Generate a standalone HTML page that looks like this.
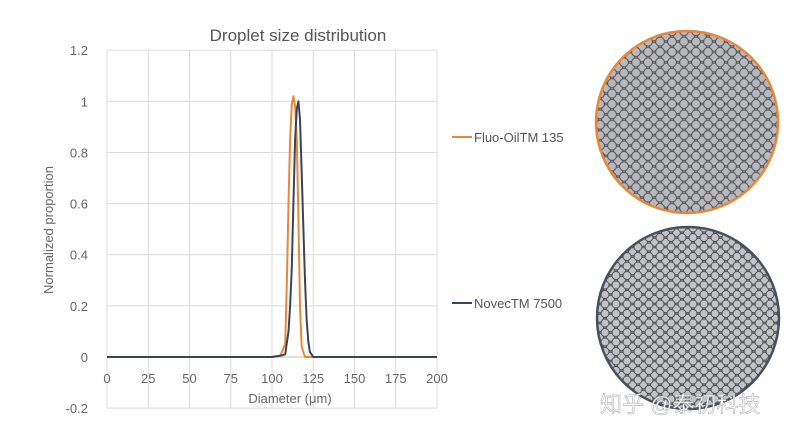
<!DOCTYPE html>
<html><head><meta charset="utf-8"><style>
body{margin:0;background:#fff;width:800px;height:435px;overflow:hidden;font-family:"Liberation Sans","Noto Sans CJK SC",sans-serif}
</style></head><body>
<svg id="chart" width="800" height="435" viewBox="0 0 800 435" xmlns="http://www.w3.org/2000/svg">
<defs>
<pattern id="hexO" width="12" height="10.4" patternUnits="userSpaceOnUse">
<rect width="12" height="10.4" fill="#9a9a9e"/>
<g fill="#b8b9bd" stroke="#55555b" stroke-width="1">
<circle cx="6" cy="5.2" r="4.4"/>
<circle cx="0" cy="0" r="4.4"/><circle cx="12" cy="0" r="4.4"/>
<circle cx="0" cy="10.4" r="4.4"/><circle cx="12" cy="10.4" r="4.4"/></g>
</pattern>
<pattern id="hexN" width="11" height="9.5" patternUnits="userSpaceOnUse">
<rect width="11" height="9.5" fill="#8a8b90"/>
<g fill="#c2c3c6" stroke="#505157" stroke-width="1">
<circle cx="5.5" cy="4.75" r="4"/>
<circle cx="0" cy="0" r="4"/><circle cx="11" cy="0" r="4"/>
<circle cx="0" cy="9.5" r="4"/><circle cx="11" cy="9.5" r="4"/></g>
</pattern>
</defs>
<text x="298" y="41" font-size="17" fill="#555" text-anchor="middle">Droplet size distribution</text>
<g id="grid"></g>
<g id="axes"></g>
<g id="series"></g>
<text transform="translate(53,230) rotate(-90)" font-size="13" fill="#666" text-anchor="middle">Normalized proportion</text>
<text x="290" y="403" font-size="13" fill="#666" text-anchor="middle">Diameter (μm)</text>
<g>
<line x1="452" y1="137" x2="472" y2="137" stroke="#e8873a" stroke-width="2"/>
<text x="474" y="142" font-size="13" fill="#555">Fluo-OilTM 135</text></g>
<g>
<line x1="452" y1="303" x2="472" y2="303" stroke="#3a4459" stroke-width="2"/>
<text x="474" y="308" font-size="13" fill="#555">NovecTM 7500</text></g>
<circle cx="687" cy="122" r="91" fill="url(#hexO)" stroke="#e8873a" stroke-width="2.5"/>
<circle cx="688" cy="318" r="91" fill="url(#hexN)" stroke="#4a4f5c" stroke-width="2.5"/>
<text x="600" y="412" font-size="22" fill="#fafafa" stroke="#999" stroke-width="0.4">知乎 @泰初科技</text>
</svg>
<script>
const xTicks=[0,25,50,75,100,125,150,175,200];
const yTicks=[-0.2,0,0.2,0.4,0.6,0.8,1,1.2];
const yTickLabels=["-0.2","0","0.2","0.4","0.6","0.8","1","1.2"];
const fluoX=[0,100,105,108,109,110,111,112,113,114,115,116,117,118,120,125,200];
const fluoY=[0,0,0.005,0.05,0.3,0.6,0.85,0.99,1.02,0.98,0.85,0.55,0.2,0.04,0,0,0];
const novecX=[0,100,105,108,110,111,112,113,114,115,116,117,118,119,120,121,122,123,125,200];
const novecY=[0,0,0.005,0.01,0.1,0.2,0.35,0.6,0.85,0.97,1.0,0.93,0.72,0.5,0.3,0.15,0.06,0.02,0,0];
const X=v=>107+v*1.65, Y=v=>357-v*255.7;
const ns="http://www.w3.org/2000/svg";
const mk=(t,a,p)=>{const e=document.createElementNS(ns,t);for(const k in a)e.setAttribute(k,a[k]);p.appendChild(e);return e;};
const grid=document.getElementById('grid'),axes=document.getElementById('axes'),ser=document.getElementById('series');
xTicks.forEach(t=>{
 const l=mk('line',{x1:X(t),x2:X(t),y1:Y(1.2),y2:Y(-0.2),stroke:'#dcdcdc','stroke-width':1},grid);
 
 
 const tx=mk('text',{x:X(t),y:383,'font-size':13,fill:'#666','text-anchor':'middle'},axes);tx.textContent=t;
 
 
});
yTicks.forEach((t,i)=>{
 const l=mk('line',{x1:X(0),x2:X(200),y1:Y(t),y2:Y(t),stroke:'#dcdcdc','stroke-width':1},grid);
 
 
 const tx=mk('text',{x:88,y:Y(t)+5,'font-size':13,fill:'#666','text-anchor':'end'},axes);tx.textContent=yTickLabels[i];
 
 
});
const zero=mk('line',{x1:X(0),x2:X(200),y1:Y(0),y2:Y(0),stroke:'#bbb','stroke-width':1},axes);


function line(xs,ys,c,name){
 const d=xs.map((x,i)=>(i?'L':'M')+X(x).toFixed(1)+','+Y(ys[i]).toFixed(1)).join('');
 const p=mk('path',{d:d,fill:'none',stroke:c,'stroke-width':2,'stroke-linejoin':'round'},ser);
 
 
}
line(fluoX,fluoY,'#e8873a','fluo-oil-series');
line(novecX,novecY,'#3a4459','novec-series');
</script>
</body></html>
